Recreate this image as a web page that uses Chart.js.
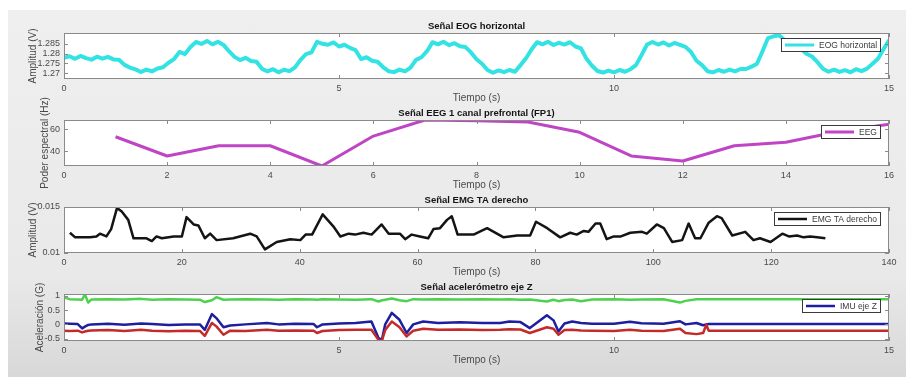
<!DOCTYPE html>
<html>
<head>
<meta charset="utf-8">
<script src="https://cdn.jsdelivr.net/npm/chart.js@4.4.1/dist/chart.umd.min.js"></script>
<style>
    html, body { margin: 0; padding: 0; background: #fff; overflow: hidden; width: 906px; height: 377px; }
    #fig {
        position: absolute; left: 8px; top: 10px; width: 898px; height: 367px;
        background: linear-gradient(to bottom, #efefef 0%, #e9e9e9 72%, #d8d8d8 100%);
    }
    canvas { position: absolute; left: 0; }
</style>
</head>
<body>
<div id="fig"></div>
<canvas id="eogChart" width="906" height="110" style="top:7px"></canvas>
<canvas id="eegChart" width="906" height="110" style="top:94px"></canvas>
<canvas id="emgChart" width="906" height="110" style="top:181px"></canvas>
<canvas id="accChart" width="906" height="110" style="top:268px"></canvas>
<script>
// --- EOG horizontal (one sample every 0.1 s, 0..15 s)
const eogStep = 0.1;
const eogValues = [
    1.2778, 1.2786, 1.2773, 1.2788, 1.2777, 1.2769, 1.2784, 1.2774, 1.2783, 1.2770,
    1.2768, 1.2742, 1.2728, 1.2719, 1.2706, 1.2718, 1.2709, 1.2724, 1.2730, 1.2753,
    1.2772, 1.2808, 1.2797, 1.2834, 1.2859, 1.2849, 1.2864, 1.2847, 1.2860, 1.2844,
    1.2812, 1.2783, 1.2767, 1.2778, 1.2762, 1.2758, 1.2722, 1.2709, 1.2720, 1.2704,
    1.2717, 1.2710, 1.2729, 1.2768, 1.2797, 1.2806, 1.2860, 1.2850, 1.2845, 1.2857,
    1.2836, 1.2845, 1.2829, 1.2818, 1.2772, 1.2781, 1.2763, 1.2758, 1.2731, 1.2710,
    1.2705, 1.2718, 1.2709, 1.2728, 1.2768, 1.2781, 1.2812, 1.2858, 1.2847, 1.2860,
    1.2843, 1.2853, 1.2837, 1.2833, 1.2806, 1.2771, 1.2748, 1.2716, 1.2702, 1.2714,
    1.2705, 1.2716, 1.2707, 1.2741, 1.2776, 1.2821, 1.2858, 1.2847, 1.2860, 1.2844,
    1.2855, 1.2846, 1.2858, 1.2836, 1.2826, 1.2773, 1.2738, 1.2711, 1.2703, 1.2713,
    1.2704, 1.2716, 1.2707, 1.2720, 1.2741, 1.2792, 1.2846, 1.2859, 1.2846, 1.2857,
    1.2841, 1.2854, 1.2844, 1.2834, 1.2808, 1.2763, 1.2741, 1.2710, 1.2704, 1.2716,
    1.2707, 1.2718, 1.2709, 1.2721, 1.2721, 1.2733, 1.2748, 1.2812, 1.2879, 1.2888,
    1.2893, 1.2869, 1.2850, 1.2834, 1.2823, 1.2799, 1.2785, 1.2756, 1.2722, 1.2707,
    1.2718, 1.2706, 1.2715, 1.2704, 1.2720, 1.2710, 1.2723, 1.2748, 1.2773, 1.2822,
    1.2868
];
const eogXTicks = [0, 5, 10, 15];
const eogYTicks = [1.27, 1.275, 1.28, 1.285];

// --- EEG spectral power
const eegTime = [1, 2, 3, 4, 5, 6, 7, 8, 9, 10, 11, 12, 13, 14, 15, 16];
const eegValues = [53, 35.5, 44.8, 44.8, 26.4, 53.6, 68.2, 67.6, 66.4, 57, 35.5, 31, 44.8, 47.9, 57.5, 64.3];
const eegXTicks = [0, 2, 4, 6, 8, 10, 12, 14, 16];
const eegYTicks = [40, 60];

// --- EMG TA derecho
const emgTime = [
    1.0, 1.9, 4.4, 5.5, 6.1, 7.2, 8.0, 9.0, 9.8, 10.9, 11.8, 14.0, 14.9, 15.7, 16.6, 18.6, 20.0,
    20.8, 22.0, 22.8, 23.9, 24.8, 25.9, 28.7, 31.6, 32.7, 34.1, 36.1, 38.4, 40.1, 41.0, 42.1,
    43.9, 45.7, 46.9, 48.3, 49.4, 50.8, 52.2, 53.9, 55.1, 57.0, 57.9, 59.0, 60.4, 61.8, 62.7,
    63.8, 65.0, 65.8, 66.8, 69.5, 71.8, 74.6, 76.9, 79.1, 80.1, 82.0, 84.2, 85.9, 87.0, 88.2,
    89.0, 90.2, 91.0, 92.1, 93.3, 94.5, 96.1, 98.1, 98.9, 100.6, 101.8, 103.2, 104.9, 106.0,
    107.1, 108.0, 109.4, 110.8, 111.6, 113.4, 115.6, 117.0, 118.1, 119.9, 121.9, 123.0, 124.4,
    125.5, 126.6, 127.8, 129.2
];
const emgValues = [
    0.0122, 0.0117, 0.0117, 0.0118, 0.0121, 0.0118, 0.0126, 0.0149, 0.0145, 0.0136, 0.0116, 0.0116, 0.0113, 0.0118, 0.0116, 0.0118, 0.0118,
    0.0139, 0.0131, 0.0130, 0.0116, 0.0121, 0.0114, 0.0116, 0.0121, 0.0118, 0.0104, 0.0112, 0.0115, 0.0114, 0.0120, 0.0120,
    0.0142, 0.0129, 0.0118, 0.0121, 0.0120, 0.0122, 0.0120, 0.0131, 0.0121, 0.0121, 0.0115, 0.0120, 0.0118, 0.0116, 0.0126,
    0.0127, 0.0136, 0.0140, 0.0120, 0.0120, 0.0127, 0.0117, 0.0119, 0.0119, 0.0134, 0.0127, 0.0117, 0.0122, 0.0120, 0.0124,
    0.0123, 0.0132, 0.0132, 0.0115, 0.0118, 0.0118, 0.0122, 0.0123, 0.0121, 0.0131, 0.0127, 0.0112, 0.0114, 0.0132,
    0.0116, 0.0116, 0.0133, 0.0140, 0.0138, 0.0119, 0.0123, 0.0114, 0.0116, 0.0112, 0.0121, 0.0118, 0.0119,
    0.0117, 0.0118, 0.0117, 0.0116
];
const emgXTicks = [0, 20, 40, 60, 80, 100, 120, 140];
const emgYTicks = [0.01, 0.015];

// --- Accelerometer Z (three traces share the time base)
const accTime = [
    0.0, 0.1, 0.25, 0.33, 0.38, 0.44, 0.5, 0.8, 1.1, 1.4, 1.6, 1.9, 2.2, 2.47, 2.56, 2.69, 2.77, 2.9,
    3.02, 3.3, 3.69, 3.9, 4.2, 4.54, 4.6, 4.7, 5.0, 5.3, 5.59, 5.72, 5.78, 5.84, 5.96, 6.1, 6.23, 6.35,
    6.53, 6.8, 7.2, 7.6, 7.93, 8.1, 8.3, 8.47, 8.78, 8.9, 8.99, 9.1, 9.24, 9.4, 9.6, 10.0, 10.29, 10.5,
    10.9, 11.2, 11.3, 11.5, 11.62, 11.68, 11.72, 15.0
];
const accBlue = [
    0.03, 0.02, 0.01, -0.14, -0.08, -0.02, 0.0, 0.02, -0.01, 0.03, 0.01, -0.02, 0.0, 0.0, -0.19, 0.36, 0.22, -0.1,
    -0.04, 0.0, 0.05, 0.0, 0.02, 0.01, -0.1, 0.0, 0.03, 0.05, 0.1, -0.48, -0.54, 0.0, 0.4, 0.16, -0.3, 0.0,
    0.1, 0.05, 0.07, 0.05, 0.05, 0.1, 0.08, -0.13, 0.32, 0.14, -0.25, 0.03, 0.1, 0.05, 0.02, 0.02, 0.09, 0.04,
    0.02, 0.11, 0.0, 0.05, -0.03, 0.0, 0.01, 0.01
];
const accRed = [
    -0.22, -0.23, -0.22, -0.28, -0.25, -0.22, -0.21, -0.2, -0.23, -0.19, -0.22, -0.24, -0.22, -0.23, -0.4, 0.05, -0.07, -0.36,
    -0.22, -0.23, -0.19, -0.22, -0.21, -0.22, -0.3, -0.23, -0.2, -0.19, -0.19, -0.55, -0.57, -0.2, 0.1, -0.1, -0.42, -0.22,
    -0.15, -0.19, -0.18, -0.2, -0.19, -0.17, -0.18, -0.3, -0.1, -0.15, -0.36, -0.2, -0.19, -0.21, -0.22, -0.23, -0.19, -0.22,
    -0.23, -0.15, -0.3, -0.34, -0.3, -0.01, -0.22, -0.22
];
const accGreen = [
    0.95, 0.88, 0.87, 0.86, 1.05, 0.76, 0.87, 0.88, 0.87, 0.89, 0.86, 0.88, 0.87, 0.86, 0.78, 0.84, 0.95, 0.86,
    0.87, 0.88, 0.87, 0.86, 0.88, 0.87, 0.86, 0.88, 0.87, 0.86, 0.88, 0.8, 0.84, 0.86, 0.9, 0.84, 0.81, 0.88,
    0.87, 0.88, 0.87, 0.88, 0.87, 0.88, 0.86, 0.87, 0.8, 0.86, 0.81, 0.85, 0.87, 0.81, 0.87, 0.88, 0.86, 0.87,
    0.88, 0.76, 0.82, 0.88, 0.88, 0.88, 0.88, 0.88
];
const accXTicks = [0, 5, 10, 15];
const accYTicks = [-0.5, 0, 0.5, 1];

Chart.defaults.font.family = '"Liberation Sans", Arial, Helvetica, sans-serif';
Chart.defaults.color = '#4a4a4a';

// white axes box, inward ticks and a MATLAB-like legend box
const matlabAxes = {
    id: 'matlabAxes',
    beforeDraw(chart) {
        const a = chart.chartArea;
        const ctx = chart.ctx;
        ctx.save();
        ctx.fillStyle = '#ffffff';
        ctx.fillRect(a.left, a.top, a.right - a.left, a.bottom - a.top);
        ctx.restore();
    },
    afterDatasetsDraw(chart) {
        const a = chart.chartArea;
        const ctx = chart.ctx;
        const xs = chart.scales.x;
        const ys = chart.scales.y;
        ctx.save();
        ctx.strokeStyle = '#8a8a8a';
        ctx.lineWidth = 1;
        ctx.beginPath();
        xs.ticks.forEach(t => {
            const px = Math.round(xs.getPixelForValue(t.value)) + 0.5;
            ctx.moveTo(px, a.bottom); ctx.lineTo(px, a.bottom - 4);
            ctx.moveTo(px, a.top); ctx.lineTo(px, a.top + 4);
        });
        ys.ticks.forEach(t => {
            const py = Math.round(ys.getPixelForValue(t.value)) + 0.5;
            ctx.moveTo(a.left, py); ctx.lineTo(a.left + 4, py);
            ctx.moveTo(a.right, py); ctx.lineTo(a.right - 4, py);
        });
        ctx.stroke();
        ctx.strokeRect(Math.round(a.left) + 0.5, Math.round(a.top) + 0.5,
            Math.round(a.right - a.left) - 1, Math.round(a.bottom - a.top) - 1);

        const ds = chart.data.datasets.find(d => d.label);
        if (ds) {
            ctx.font = '8.5px "Liberation Sans", Arial, sans-serif';
            const tw = ctx.measureText(ds.label).width;
            const w = Math.round(4 + 29 + 5 + tw + 3);
            const h = 13;
            const bx = Math.round(a.right - 9 - w);
            const by = Math.round(a.top + 5);
            ctx.fillStyle = '#ffffff';
            ctx.fillRect(bx, by, w, h);
            ctx.strokeStyle = '#3a3a3a';
            ctx.strokeRect(bx + 0.5, by + 0.5, w, h);
            ctx.strokeStyle = ds.borderColor;
            ctx.lineWidth = Math.min(ds.borderWidth, 3);
            ctx.beginPath();
            ctx.moveTo(bx + 4, by + h / 2 + 0.5);
            ctx.lineTo(bx + 33, by + h / 2 + 0.5);
            ctx.stroke();
            ctx.fillStyle = '#3a3a3a';
            ctx.textBaseline = 'middle';
            ctx.fillText(ds.label, bx + 38, by + h / 2 + 1);
        }
        ctx.restore();
    }
};

function axesOptions(o) {
    return {
        responsive: false,
        animation: false,
        layout: { padding: { left: 20, right: 17, top: 14.5, bottom: o.padBottom } },
        plugins: {
            legend: { display: false },
            tooltip: { enabled: false }
        },
        scales: {
            x: {
                type: 'linear',
                min: o.xTicks[0],
                max: o.xTicks[o.xTicks.length - 1],
                grid: { display: false, drawTicks: false },
                border: { display: false },
                afterBuildTicks: s => { s.ticks = o.xTicks.map(v => ({ value: v })); },
                afterFit: s => { s.height = 26; },
                ticks: { font: { size: 9 }, padding: 4, maxRotation: 0, callback: v => String(v) },
                title: { display: true, text: 'Tiempo (s)', font: { size: 10 }, padding: { top: 0, bottom: 1 } }
            },
            // top axis only carries the subplot title, so it is centred over the plot box
            top: {
                type: 'linear',
                position: 'top',
                grid: { display: false, drawTicks: false },
                border: { display: false },
                ticks: { display: false },
                afterFit: s => { s.height = 11.5; },
                title: {
                    display: true,
                    text: o.title,
                    color: '#151515',
                    font: { size: 9.5, weight: 'bold', lineHeight: '10px' },
                    padding: { top: 0, bottom: 0 }
                }
            },
            y: {
                min: o.yMin,
                max: o.yMax,
                grid: { display: false, drawTicks: false },
                border: { display: false },
                afterBuildTicks: s => { s.ticks = o.yTicks.map(v => ({ value: v })); },
                afterFit: s => { s.width = 44; },
                ticks: { font: { size: 9 }, padding: 4, callback: v => String(v) },
                title: { display: true, text: o.yTitle, font: { size: 10 }, padding: { top: o.yTitlePad, bottom: 0 } }
            }
        }
    };
}

function lineSet(label, points, color, width) {
    return {
        label: label,
        data: points,
        xAxisID: 'x',
        borderColor: color,
        borderWidth: width,
        pointRadius: 0,
        tension: 0,
        fill: false,
        borderJoinStyle: 'round'
    };
}

function renderEogChart() {
    const ctx = document.getElementById('eogChart');
    const points = eogValues.map((v, i) => ({ x: i * eogStep, y: v }));
    new Chart(ctx, {
        type: 'line',
        data: { datasets: [lineSet('EOG horizontal', points, '#33e2e2', 4)] },
        options: axesOptions({
            title: 'Señal EOG horizontal', yTitle: 'Amplitud (V)', yTitlePad: 7,
            xTicks: eogXTicks, yTicks: eogYTicks, yMin: 1.267, yMax: 1.2905, padBottom: 12
        }),
        plugins: [matlabAxes]
    });
}

function renderEegChart() {
    const ctx = document.getElementById('eegChart');
    const points = eegTime.map((t, i) => ({ x: t, y: eegValues[i] }));
    new Chart(ctx, {
        type: 'line',
        data: { datasets: [lineSet('EEG', points, '#bf45c4', 3)] },
        options: axesOptions({
            title: 'Señal EEG 1 canal prefrontal (FP1)', yTitle: 'Poder espectral (Hz)', yTitlePad: 19,
            xTicks: eegXTicks, yTicks: eegYTicks, yMin: 26.4, yMax: 68.2, padBottom: 12
        }),
        plugins: [matlabAxes]
    });
}

function renderEmgChart() {
    const ctx = document.getElementById('emgChart');
    const points = emgTime.map((t, i) => ({ x: t, y: emgValues[i] }));
    new Chart(ctx, {
        type: 'line',
        data: { datasets: [lineSet('EMG TA derecho', points, '#141414', 2.5)] },
        options: axesOptions({
            title: 'Señal EMG TA derecho', yTitle: 'Amplitud (V)', yTitlePad: 7,
            xTicks: emgXTicks, yTicks: emgYTicks, yMin: 0.01, yMax: 0.015, padBottom: 12
        }),
        plugins: [matlabAxes]
    });
}

function renderAccChart() {
    const ctx = document.getElementById('accChart');
    const pts = arr => accTime.map((t, i) => ({ x: t, y: arr[i] }));
    new Chart(ctx, {
        type: 'line',
        data: {
            datasets: [
                lineSet('', pts(accGreen), '#4ed24e', 2.5),
                lineSet('', pts(accRed), '#c42a2a', 2.5),
                lineSet('IMU eje Z', pts(accBlue), '#1e1ea0', 2.5)
            ]
        },
        options: axesOptions({
            title: 'Señal acelerómetro eje Z', yTitle: 'Aceleración (G)', yTitlePad: 14,
            xTicks: accXTicks, yTicks: accYTicks, yMin: -0.58, yMax: 1.06, padBottom: 11
        }),
        plugins: [matlabAxes]
    });
}

renderEogChart();
renderEegChart();
renderEmgChart();
renderAccChart();
</script>
</body>
</html>
